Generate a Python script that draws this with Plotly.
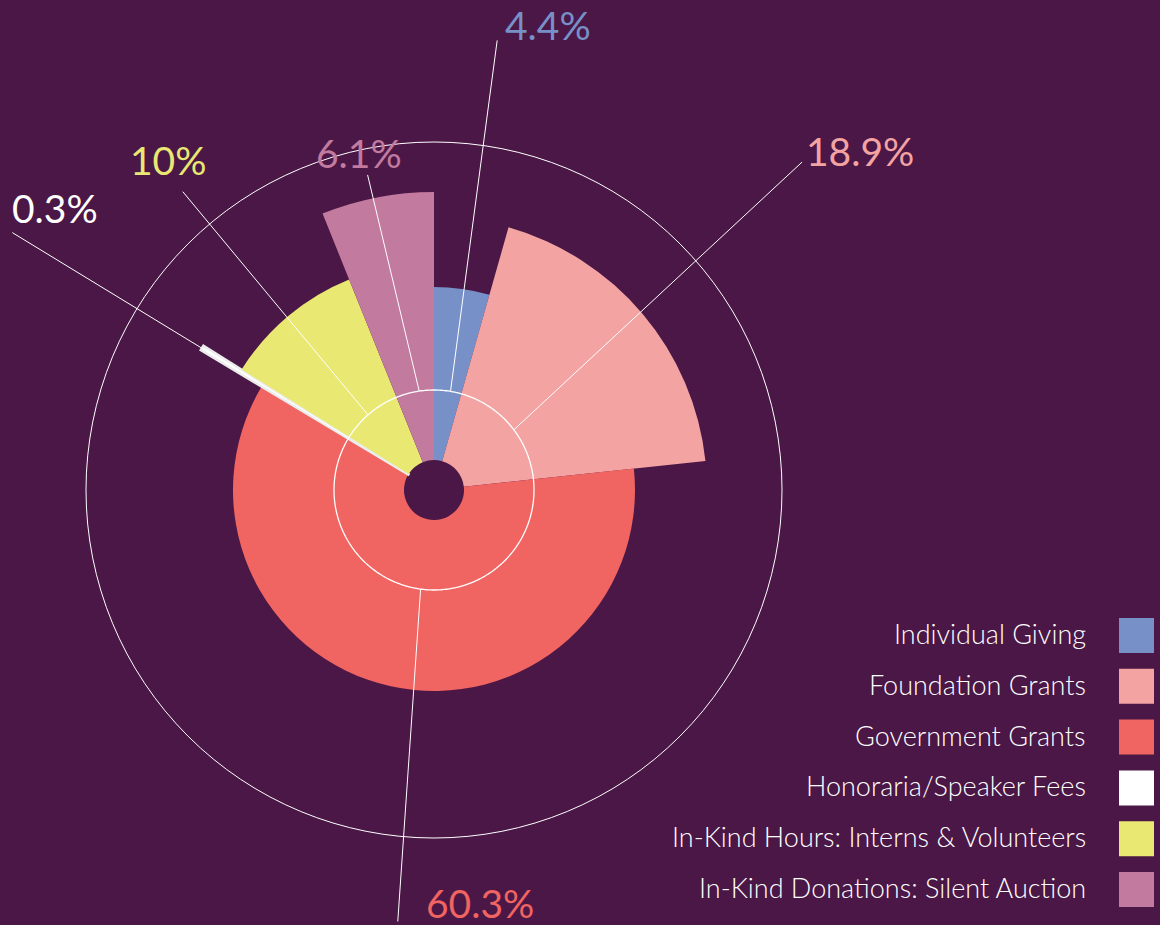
import math
import plotly.graph_objects as go

# ---------------- data ----------------
categories = [
    "Individual Giving",
    "Foundation Grants",
    "Government Grants",
    "Honoraria/Speaker Fees",
    "In-Kind Hours: Interns & Volunteers",
    "In-Kind Donations: Silent Auction",
]
shares = [4.4, 18.9, 60.3, 0.3, 10.0, 6.1]          # percent -> angular width
radii = [203, 273, 201, 272, 227, 298]               # outer radius of each wedge (chart units)
label_texts = ["4.4%", "18.9%", "60.3%", "0.3%", "10%", "6.1%"]

# ---------------- style ----------------
colors = ["#7790c8", "#f4a3a3", "#f06461", "#ffffff", "#e8e873", "#c27a9e"]
edge_colors = ["#7790c8", "#f4a3a3", "#f06461", "#ececec", "#e8e873", "#c27a9e"]
edge_widths = [0, 0, 0, 2.5, 0, 0]
BG = "#4a1746"
FONT = "Lato"

W, H = 1160, 925
CX, CY = 434, 490          # centre of the polar subplot in px
R_PX = 348                 # pixel radius of the polar subplot
R_MAX = 348                # radial axis max (outer ring)
HOLE = 30                  # bars start here
INNER = 100                # inner ring radius

# leader lines: start angle (on inner ring), end angle, end radius
lead_start = [9.5, 53.0, 187.7, 301.5, 318.7, 351.5]
lead_end = [8.0, 48.3, 184.8, 301.4, 319.9, 348.1]
lead_len = [454, 493, 433, 494, 390, 322]
# label centre positions (px)
label_pos = [(548, 25), (860, 151), (480, 903), (55, 208), (168, 160), (359, 153)]

# ---------------- geometry ----------------
widths = [s * 3.6 for s in shares]
thetas = []
acc = 0.0
for w in widths:
    thetas.append(acc + w / 2)
    acc += w

scale = R_PX / R_MAX


def to_paper(r, ang):
    a = math.radians(ang)
    px = CX + r * scale * math.sin(a)
    py = CY - r * scale * math.cos(a)
    return px / W, 1 - py / H


fig = go.Figure()
fig.add_trace(go.Barpolar(
    r=[rv - HOLE for rv in radii],
    base=HOLE,
    theta=thetas,
    width=widths,
    marker=dict(color=colors, line=dict(width=edge_widths, color=edge_colors)),
    hoverinfo="skip",
    showlegend=False,
))
# inner ring
ring_t = list(range(0, 361))
fig.add_trace(go.Scatterpolar(
    r=[INNER] * len(ring_t), theta=ring_t, mode="lines",
    line=dict(color="white", width=1.3), hoverinfo="skip", showlegend=False,
))

shapes = []
annotations = []
for i in range(len(categories)):
    x0, y0 = to_paper(INNER, lead_start[i])
    x1, y1 = to_paper(lead_len[i], lead_end[i])
    shapes.append(dict(type="line", xref="paper", yref="paper",
                       x0=x0, y0=y0, x1=x1, y1=y1,
                       line=dict(color="white", width=1), layer="above"))
    lx, ly = label_pos[i]
    annotations.append(dict(
        x=lx / W, y=1 - ly / H, xref="paper", yref="paper",
        text=label_texts[i], showarrow=False, xanchor="center", yanchor="middle",
        font=dict(family=FONT, size=39, color=colors[i]),
    ))

# legend (text right-aligned, swatch to the right)
LEG_TOP = 635.5
LEG_STEP = 50.8
SW = 35
for i, cat in enumerate(categories):
    yc = LEG_TOP + i * LEG_STEP
    annotations.append(dict(
        x=1088 / W, y=1 - (yc - 2) / H, xref="paper", yref="paper",
        text=cat, showarrow=False, xanchor="right", yanchor="middle",
        font=dict(family=FONT, size=27, color="white", weight=300),
    ))
    shapes.append(dict(type="rect", xref="paper", yref="paper",
                       x0=1119 / W, x1=(1119 + SW) / W,
                       y0=1 - (yc + SW / 2) / H, y1=1 - (yc - SW / 2) / H,
                       fillcolor=colors[i], line=dict(width=0)))

fig.update_layout(
    width=W, height=H,
    margin=dict(l=0, r=0, t=0, b=0),
    paper_bgcolor=BG, plot_bgcolor=BG,
    shapes=shapes, annotations=annotations,
    polar=dict(
        domain=dict(x=[(CX - R_PX) / W, (CX + R_PX) / W],
                    y=[1 - (CY + R_PX) / H, 1 - (CY - R_PX) / H]),
        bgcolor=BG,
        radialaxis=dict(range=[0, R_MAX], visible=False, showgrid=False),
        angularaxis=dict(rotation=90, direction="clockwise", showgrid=False,
                         showticklabels=False, ticks="", showline=True,
                         linecolor="white", linewidth=1),
        bargap=0,
    ),
)

fig.write_html("out.html")
